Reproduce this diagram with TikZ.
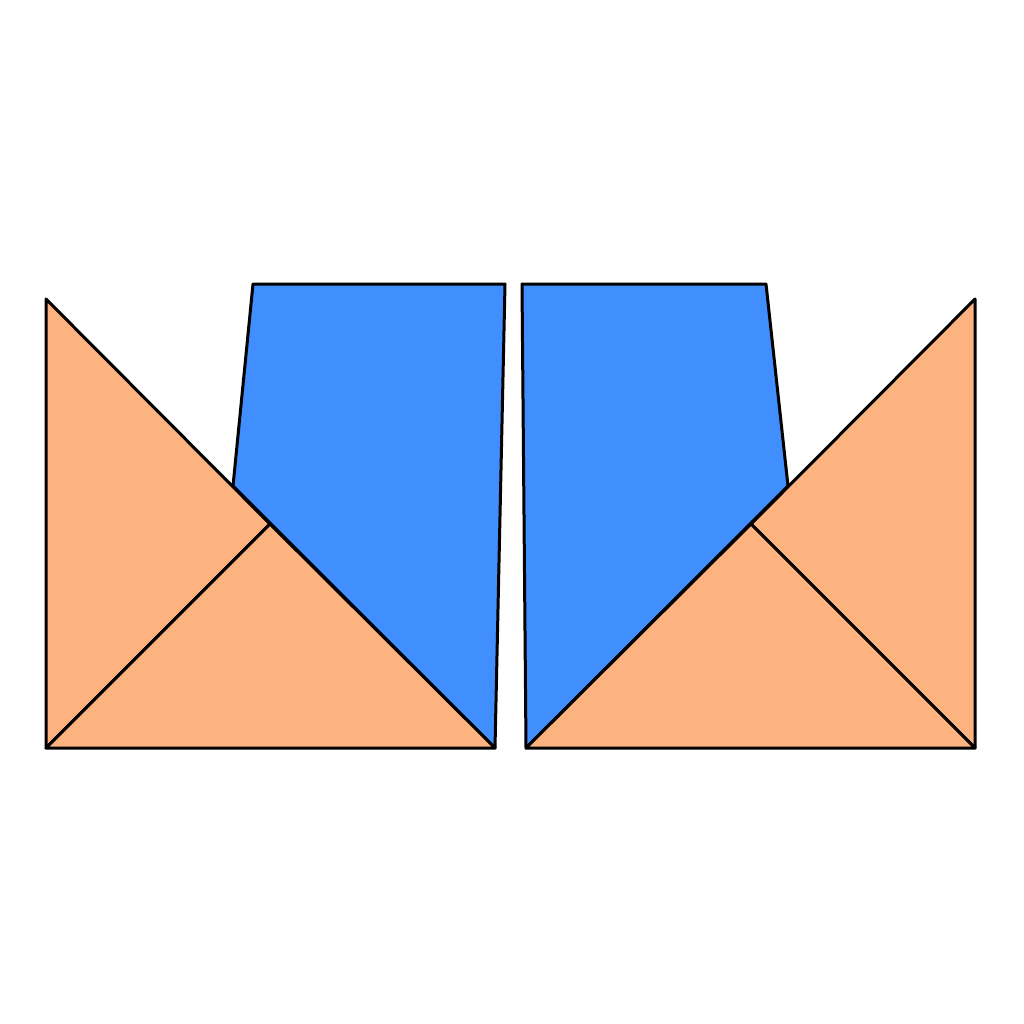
\documentclass[tikz,border=0pt]{standalone}
\definecolor{tri}{HTML}{FDB380}
\definecolor{quad}{HTML}{418FFE}
\begin{document}
\begin{tikzpicture}[x=1pt,y=-1pt,
  piece/.style={draw=black,line width=3pt,line join=round}]
\useasboundingbox[fill=white] (0,0) rectangle (1024,1024);
% left blue
\filldraw[piece,fill=quad] (233,486) -- (253,284) -- (505,284) -- (495,748) -- cycle;
% right blue
\filldraw[piece,fill=quad] (788,486) -- (766,284) -- (522,284) -- (526,748) -- cycle;
% left triangles
\filldraw[piece,fill=tri] (46,299) -- (270,524) -- (46,748) -- cycle;
\filldraw[piece,fill=tri] (46,748) -- (270,524) -- (495,748) -- cycle;
% right triangles
\filldraw[piece,fill=tri] (975,299) -- (751,524) -- (975,748) -- cycle;
\filldraw[piece,fill=tri] (975,748) -- (751,524) -- (526,748) -- cycle;
\end{tikzpicture}
\end{document}
